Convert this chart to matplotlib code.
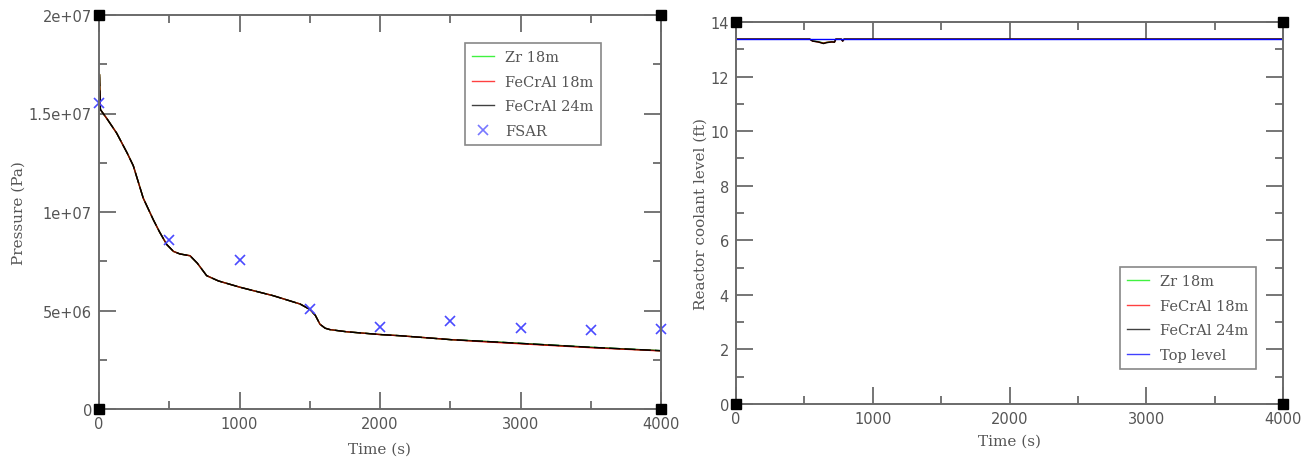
import matplotlib
matplotlib.use("Agg")
import matplotlib.pyplot as plt
from matplotlib.ticker import MultipleLocator, FuncFormatter

# ---- Pressure transient (Pa) ----
p_time = [0, 3, 10, 60, 126, 200, 244, 315, 387, 430, 482, 530, 576, 648, 700,
          766, 850, 1004, 1241, 1431, 1502, 1540, 1573, 1610, 1644, 1763, 2000,
          2142, 2505, 2700, 3004, 3507, 4000]
p_zr18 = [15.5e6, 17.0e6, 15.2e6, 14.7e6, 14.0e6, 13.0e6, 12.35e6, 10.7e6, 9.6e6,
          9.0e6, 8.35e6, 8.0e6, 7.87e6, 7.78e6, 7.4e6, 6.77e6, 6.5e6, 6.18e6,
          5.75e6, 5.33e6, 5.05e6, 4.75e6, 4.3e6, 4.1e6, 4.03e6, 3.92e6, 3.78e6,
          3.72e6, 3.52e6, 3.45e6, 3.33e6, 3.13e6, 2.96e6]
p_fecral18 = [15.5e6, 17.0e6, 15.2e6, 14.7e6, 14.0e6, 13.0e6, 12.35e6, 10.7e6, 9.6e6,
              9.0e6, 8.35e6, 8.0e6, 7.87e6, 7.78e6, 7.4e6, 6.77e6, 6.5e6, 6.18e6,
              5.75e6, 5.33e6, 5.05e6, 4.75e6, 4.3e6, 4.1e6, 4.03e6, 3.92e6, 3.78e6,
              3.72e6, 3.52e6, 3.43e6, 3.31e6, 3.11e6, 2.95e6]
p_fecral24 = [15.5e6, 17.0e6, 15.2e6, 14.7e6, 14.0e6, 13.0e6, 12.35e6, 10.7e6, 9.6e6,
              9.0e6, 8.35e6, 8.0e6, 7.87e6, 7.78e6, 7.4e6, 6.77e6, 6.5e6, 6.18e6,
              5.75e6, 5.33e6, 5.05e6, 4.75e6, 4.3e6, 4.1e6, 4.03e6, 3.92e6, 3.78e6,
              3.72e6, 3.52e6, 3.45e6, 3.33e6, 3.13e6, 2.96e6]
fsar_time = [0, 500, 1000, 1500, 2000, 2500, 3000, 3500, 4000]
fsar_pressure = [15.53e6, 8.58e6, 7.56e6, 5.08e6, 4.16e6, 4.47e6, 4.11e6, 4.01e6, 4.06e6]

# ---- Reactor coolant level (ft) ----
l_time = [0, 540, 560, 600, 640, 660, 700, 720, 730, 770, 780, 790, 800, 4000]
l_zr18 = [13.37, 13.37, 13.31, 13.28, 13.23, 13.25, 13.28, 13.27, 13.37, 13.37,
          13.31, 13.37, 13.37, 13.37]
l_fecral18 = [13.37, 13.37, 13.30, 13.27, 13.22, 13.25, 13.27, 13.26, 13.37, 13.37,
              13.30, 13.37, 13.37, 13.37]
l_fecral24 = [13.37, 13.37, 13.30, 13.27, 13.21, 13.24, 13.27, 13.26, 13.37, 13.37,
              13.30, 13.37, 13.37, 13.37]
top_time = [0, 4000]
top_level = [13.37, 13.37]

GRAY = "#555555"
SPINE = "#6a6a6a"
SERIF = "DejaVu Serif"

fig = plt.figure(figsize=(13.07, 4.60), dpi=100)
ax1 = fig.add_axes([99 / 1307, 50 / 460, 562 / 1307, 394 / 460])
ax2 = fig.add_axes([736 / 1307, 55 / 460, 547 / 1307, 382 / 460])


def style_axes(ax, xmaj, xmin, ymaj, ymin):
    for s in ax.spines.values():
        s.set_color(SPINE)
        s.set_linewidth(1.4)
    ax.xaxis.set_major_locator(MultipleLocator(xmaj))
    ax.xaxis.set_minor_locator(MultipleLocator(xmin))
    ax.yaxis.set_major_locator(MultipleLocator(ymaj))
    ax.yaxis.set_minor_locator(MultipleLocator(ymin))
    ax.tick_params(which="both", direction="in", top=True, right=True,
                   color=SPINE, labelcolor=GRAY, labelsize=10.5)
    ax.tick_params(which="major", length=12, width=1.3, pad=5)
    ax.tick_params(which="minor", length=6, width=1.3)
    for lab in ax.get_xticklabels() + ax.get_yticklabels():
        lab.set_fontfamily("DejaVu Sans")
    # square markers on the frame corners
    ax.plot([0, 0, 1, 1], [0, 1, 0, 1], "s", color="black", ms=7,
            transform=ax.transAxes, clip_on=False, zorder=10)


def sci_label(v, pos):
    if v == 0:
        return "0"
    s = f"{v:.1e}"
    mant, ex = s.split("e")
    mant = mant.rstrip("0").rstrip(".")
    return f"{mant}e{ex[0]}{ex[1:].zfill(2)}"


def legend_box(ax, anchor):
    leg = ax.legend(loc="upper left", bbox_to_anchor=anchor,
                    bbox_transform=fig.transFigure, borderaxespad=0,
                    frameon=True, fancybox=False, edgecolor=SPINE,
                    prop={"family": SERIF, "size": 10.5}, labelspacing=0.72,
                    handlelength=1.5, handletextpad=0.75, borderpad=0.5)
    leg.get_frame().set_linewidth(1.2)
    for t in leg.get_texts():
        t.set_color(GRAY)
    for lh in leg.legend_handles:
        lh.set_alpha(0.75)
        if hasattr(lh, "set_dashes") and lh.get_linestyle() != "None":
            lh.set_linestyle("-")
    return leg


# Left panel: pressure
ax1.plot(p_time, p_zr18, color="#00ee00", lw=1.0, label="Zr 18m")
ax1.plot(p_time, p_fecral18, color="#ff0000", lw=1.0, label="FeCrAl 18m")
ax1.plot(p_time, p_fecral24, color="black", lw=1.0, alpha=0.55)
ax1.plot(p_time, p_fecral24, color="black", lw=1.0, label="FeCrAl 24m",
         dashes=[8, 3])
ax1.plot(fsar_time, fsar_pressure, "x", color="#4a4aff", ms=7, mew=1.2,
         linestyle="none", label="FSAR", clip_on=False)
ax1.set_xlim(0, 4000)
ax1.set_ylim(0, 2e7)
style_axes(ax1, 1000, 500, 5e6, 2.5e6)
ax1.yaxis.set_major_formatter(FuncFormatter(sci_label))
ax1.set_xlabel("Time (s)", fontfamily=SERIF, fontsize=11, color=GRAY)
ax1.set_ylabel("Pressure (Pa)", fontfamily=SERIF, fontsize=11, color=GRAY)
ax1.xaxis.set_label_coords(0.5, -0.082)
ax1.yaxis.set_label_coords(-0.131, 0.5)
legend_box(ax1, (465 / 1307, 1 - 44 / 460))

# Right panel: coolant level
ax2.plot(l_time, l_zr18, color="#00ee00", lw=1.0, label="Zr 18m")
ax2.plot(l_time, l_fecral18, color="#ff0000", lw=1.0, label="FeCrAl 18m")
ax2.plot(l_time, l_fecral24, color="black", lw=1.0, label="FeCrAl 24m")
ax2.plot(top_time, top_level, color="#0000ff", lw=1.0, label="Top level")
ax2.set_xlim(0, 4000)
ax2.set_ylim(0, 14)
style_axes(ax2, 1000, 500, 2, 1)
ax2.set_xlabel("Time (s)", fontfamily=SERIF, fontsize=11, color=GRAY)
ax2.set_ylabel("Reactor coolant level (ft)", fontfamily=SERIF, fontsize=11,
               color=GRAY)
ax2.xaxis.set_label_coords(0.5, -0.078)
ax2.yaxis.set_label_coords(-0.052, 0.5)
legend_box(ax2, (1120 / 1307, 1 - 268 / 460))

fig.savefig("out.png", dpi=100)
